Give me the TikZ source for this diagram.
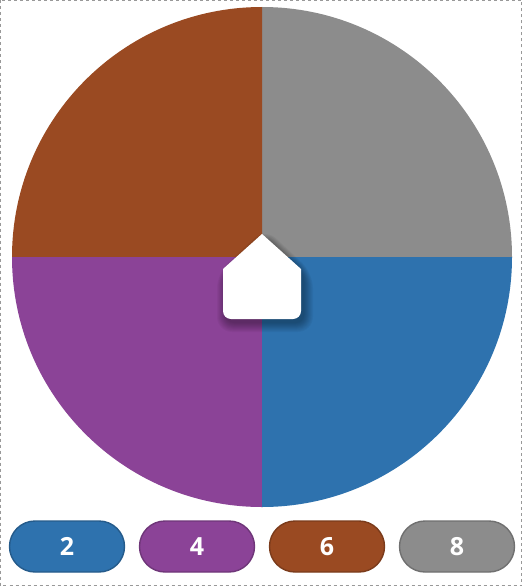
\documentclass[tikz,border=0pt]{standalone}
\usepackage{fontspec}
\setmainfont{Open Sans}
\usetikzlibrary{shapes.misc}
\definecolor{cbrown}{HTML}{9A4A22}
\definecolor{cgray}{HTML}{8C8C8C}
\definecolor{cblue}{HTML}{2E72AE}
\definecolor{cpurple}{HTML}{8B4397}
\tikzset{
  pill/.style={rounded rectangle, draw=#1!80!black, line width=1.4pt, fill=#1,
    minimum width=115pt, minimum height=51pt, inner sep=0pt,
    text=white, font=\bfseries\fontsize{25}{25}\selectfont},
}
\begin{document}
\begin{tikzpicture}[x=1pt,y=-1pt]
\useasboundingbox (0,0) rectangle (522,586);
\fill[white] (0,0) rectangle (522,586);
\draw[gray!80, dashed, line width=0.6pt] (0.5,0.5) rectangle (521.5,585.5);
\coordinate (c) at (262,257);
\fill[cgray]   (c) -- (512,257) arc[start angle=0, end angle=-90, radius=250] -- cycle;
\fill[cbrown]  (c) -- (262,7) arc[start angle=-90, end angle=-180, radius=250] -- cycle;
\fill[cpurple] (c) -- (12,257) arc[start angle=180, end angle=90, radius=250] -- cycle;
\fill[cblue]   (c) -- (262,507) arc[start angle=90, end angle=0, radius=250] -- cycle;
% pointer shadow (soft)
\foreach \o in {9,8,7,6,5,4,3,2,1,0}{
  \fill[black, opacity=0.035, rounded corners=8pt+\o*0.8pt]
    (262+3,234+3-\o) -- (301+3+\o,269+4) -- (301+3+\o,319+4+\o) -- (223+3-\o,319+4+\o) -- (223+3-\o,269+4) -- cycle;
}
\fill[white] (262,234) -- (301,269) [rounded corners=8pt] -- (301,319) -- (223,319) [sharp corners] -- (223,269) -- cycle;
\node[pill=cblue]   (p2) at (67,546.5)  {2};
\node[pill=cpurple] (p4) at (197,546.5) {4};
\node[pill=cbrown]  (p6) at (327,546.5) {6};
\node[pill=cgray]   (p8) at (457,546.5) {8};
\end{tikzpicture}
\end{document}
